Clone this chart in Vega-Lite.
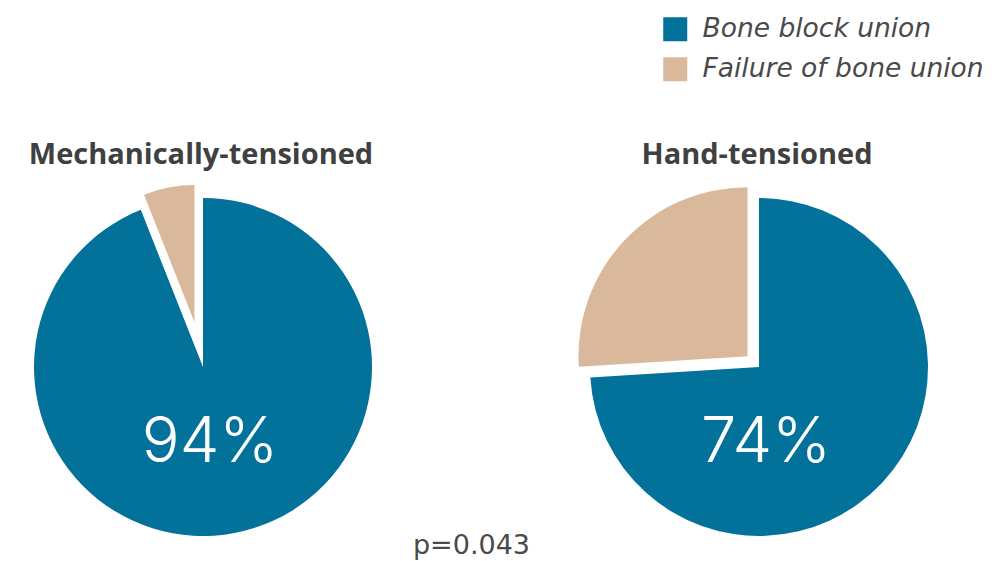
{
  "$schema": "https://vega.github.io/schema/vega-lite/v6.json",
  "width": 1001,
  "height": 561,
  "autosize": "none",
  "padding": 0,
  "background": "white",
  "config": {"view": {"stroke": null}, "font": "Open Sans"},
  "data": {
    "values": [
      {"group": "Mechanically-tensioned", "category": "Bone block union", "share": 0.94},
      {"group": "Mechanically-tensioned", "category": "Failure of bone union", "share": 0.06},
      {"group": "Hand-tensioned", "category": "Bone block union", "share": 0.74},
      {"group": "Hand-tensioned", "category": "Failure of bone union", "share": 0.26}
    ]
  },
  "transform": [
    {"stack": "share", "groupby": ["group"], "sort": [{"field": "category", "order": "ascending"}], "as": ["s0", "s1"]}
  ],
  "encoding": {
    "x": {"field": "group", "type": "nominal", "axis": null,
          "scale": {"type": "point", "domain": ["Mechanically-tensioned", "Hand-tensioned"], "padding": 0.4002, "align": 0.4562}},
    "y": {"datum": "pie", "type": "nominal", "axis": null,
          "scale": {"type": "point", "domain": ["pie"], "padding": 1, "align": 0.6542}}
  },
  "layer": [
    {
      "transform": [{"filter": "datum.category === 'Bone block union'"}],
      "mark": {"type": "arc", "outerRadius": 169},
      "encoding": {
        "theta": {"field": "s0", "type": "quantitative", "scale": {"domain": [0, 1]}, "stack": null},
        "theta2": {"field": "s1"},
        "color": {"field": "category", "type": "nominal",
                  "scale": {"domain": ["Bone block union", "Failure of bone union"], "range": ["#02729b", "#d9b89b"]},
                  "legend": {"orient": "none", "legendX": 662, "legendY": 16, "title": null,
                             "symbolType": "square", "symbolSize": 576, "symbolStrokeWidth": 0,
                             "labelFont": "DejaVu Sans", "labelFontStyle": "italic", "labelFontSize": 26.5,
                             "labelColor": "#4a4a4a", "labelOffset": 14, "rowPadding": 13, "labelLimit": 400}}
      }
    },
    {
      "transform": [{"filter": "datum.category === 'Failure of bone union' && datum.group === 'Mechanically-tensioned'"}],
      "mark": {"type": "arc", "outerRadius": 137, "xOffset": -8.6, "yOffset": -45},
      "encoding": {
        "theta": {"field": "s0", "type": "quantitative", "scale": {"domain": [0, 1]}, "stack": null},
        "theta2": {"field": "s1"},
        "color": {"field": "category", "type": "nominal"}
      }
    },
    {
      "transform": [{"filter": "datum.category === 'Failure of bone union' && datum.group === 'Hand-tensioned'"}],
      "mark": {"type": "arc", "outerRadius": 169, "xOffset": -11.5, "yOffset": -10.8},
      "encoding": {
        "theta": {"field": "s0", "type": "quantitative", "scale": {"domain": [0, 1]}, "stack": null},
        "theta2": {"field": "s1"},
        "color": {"field": "category", "type": "nominal"}
      }
    },
    {
      "transform": [{"filter": "datum.category === 'Bone block union'"}],
      "mark": {"type": "text", "yOffset": -203, "dx": -2, "baseline": "alphabetic", "align": "center",
               "fontSize": 29, "fontWeight": "bold", "color": "#404040", "font": "Open Sans"},
      "encoding": {"text": {"field": "group"}}
    },
    {
      "transform": [{"filter": "datum.category === 'Bone block union'"}],
      "mark": {"type": "text", "yOffset": 95, "dx": 7, "baseline": "alphabetic", "align": "center",
               "fontSize": 63, "fontWeight": 300, "color": "white", "font": "Inter"},
      "encoding": {"text": {"field": "share", "type": "quantitative", "format": ".0%"}}
    },
    {
      "data": {"values": [{"note": "p=0.043", "group": "Mechanically-tensioned"}]},
      "mark": {"type": "text", "yOffset": 187, "dx": 268.5, "baseline": "alphabetic", "align": "center",
               "fontSize": 27, "color": "#4a4a4a", "font": "DejaVu Sans"},
      "encoding": {"text": {"field": "note"}}
    }
  ]
}
